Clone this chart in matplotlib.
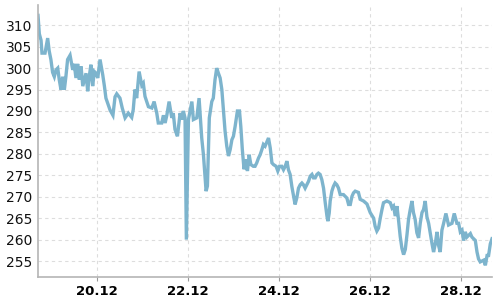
import pandas as pd
import numpy as np
import matplotlib
matplotlib.use("Agg")
import matplotlib.pyplot as plt
import matplotlib.dates as mdates

#hours after 18.12 00:00 and the reading at that time
hours = [16.9, 17.6, 18.5, 19.0, 20.6, 22.0, 22.8, 23.7, 24.6, 25.5, 26.4, 27.3, 28.1, 29.0,
         29.9, 30.8, 31.6, 32.5, 33.8, 35.2, 36.0, 36.9, 37.8, 38.7, 39.6, 40.5, 42.2, 43.1,
         43.9, 44.8, 45.7, 46.6, 47.5, 48.4, 49.6, 51.0, 51.9, 52.7, 54.9, 56.4, 57.5, 58.4,
         60.1, 61.3, 62.8, 64.5, 66.3, 67.1, 68.0, 68.9, 70.2, 71.6, 72.4, 73.3, 75.1, 76.9,
         78.1, 79.5, 80.3, 82.1, 83.0, 83.9, 84.8, 86.0, 87.4, 88.2, 89.1, 90.4, 91.8, 92.7,
         93.5, 94.4, 95.1, 96.2, 98.0, 98.8, 100.6, 101.8, 103.2, 104.1, 105.5, 106.2, 107.2,
         108.5, 109.3, 110.2, 111.1, 112.0, 112.9, 113.8, 114.6, 115.5, 116.4, 117.3, 118.2,
         119.1, 119.9, 120.8, 122.0, 123.1, 123.8, 124.6, 125.5, 126.4, 127.3, 128.2, 129.1,
         130.4, 131.3, 132.2, 133.1, 134.0, 134.9, 135.7, 136.6, 138.4, 139.3, 140.2, 141.0,
         142.4, 143.3, 144.2, 145.4, 146.3, 147.2, 148.1, 148.9, 149.8, 150.7, 151.6, 152.4,
         153.3, 154.2, 155.1, 156.0, 156.8, 157.7, 158.6, 159.5, 160.4, 161.3, 162.1, 163.0,
         163.9, 164.7, 165.6, 166.5, 167.4, 168.3, 169.2, 169.7, 170.4, 170.9, 171.8, 172.6,
         173.5, 174.4, 175.3, 176.2, 177.9, 179.7, 180.6, 181.5, 182.4, 183.2, 184.1, 185.8,
         186.7, 188.5, 190.3, 192.0, 193.8, 194.6, 195.5, 196.4, 197.3, 198.2, 199.0, 200.8,
         202.6, 203.5, 204.3, 205.2, 206.1, 206.9, 207.8, 208.7, 209.6, 210.5, 211.4, 212.2,
         213.1, 214.0, 214.8, 215.7, 216.6, 217.5, 218.4, 219.3, 220.1, 221.0, 221.9, 222.8,
         223.7, 224.6, 225.4, 226.3, 227.2, 228.0, 228.9, 229.8, 230.7, 231.9, 233.3, 235.1,
         236.3, 237.7, 238.6, 239.5, 240.4, 241.2, 242.1, 243.0, 244.8, 245.6, 246.5, 247.4,
         248.3, 249.1, 250.0, 251.8, 252.7, 253.6, 254.4, 255.3, 256.2]
values = [312.3, 308.0, 306.5, 303.5, 303.5, 307.0, 304.0, 302.0, 299.0, 298.0, 299.6, 300.0, 297.3, 295.0,
          298.0, 295.0, 298.0, 302.0, 303.0, 299.6, 301.0, 297.7, 301.0, 297.3, 300.4, 295.8, 298.8, 294.6,
          298.0, 300.8, 295.8, 299.2, 298.8, 297.7, 302.0, 298.5, 295.8, 293.0, 290.2, 289.0, 293.3, 294.0,
          293.0, 290.7, 288.4, 289.5, 288.5, 290.3, 295.0, 293.0, 299.2, 296.0, 296.5, 293.4, 291.0, 290.7,
          292.2, 289.5, 287.2, 287.2, 289.0, 287.2, 289.0, 292.2, 288.4, 289.5, 285.7, 284.1, 289.5, 288.0,
          290.0, 288.4, 260.0, 288.0, 292.2, 288.0, 288.4, 293.0, 283.7, 279.8, 271.3, 272.5, 288.4,
          292.2, 293.0, 297.3, 300.0, 298.8, 297.7, 295.0, 290.3, 285.3, 281.8, 279.5, 281.0,
          283.3, 284.1, 286.4, 290.0, 290.0, 286.4, 281.0, 276.4, 278.7, 276.0, 279.8, 277.5,
          277.1, 277.1, 277.9, 279.0, 279.8, 281.0, 282.2, 281.8, 283.7, 281.4, 277.9, 277.5,
          277.1, 276.0, 277.1, 277.1, 276.3, 277.1, 278.3, 276.3, 275.2, 272.4, 270.1, 268.2,
          269.7, 272.0, 272.8, 273.2, 272.8, 272.0, 272.8, 273.6, 274.8, 275.2, 274.4, 274.4,
          275.2, 275.5, 275.2, 274.0, 272.0, 268.6, 265.5, 264.3, 266.2, 269.0, 271.3, 272.4,
          273.2, 272.8, 272.0, 270.5, 270.5, 269.7, 268.2, 268.2, 270.1, 270.9, 271.3, 271.0,
          269.4, 269.0, 268.3, 266.3, 265.0, 263.1, 262.0, 262.7, 265.0, 267.0, 268.6, 269.0,
          268.6, 267.4, 267.8, 265.5, 267.8, 264.7, 260.8, 258.0, 256.5, 257.7, 261.2, 264.7,
          267.0, 269.0, 266.3, 264.7, 261.6, 260.4, 263.9, 266.3, 267.0, 269.0, 265.3, 263.8,
          261.4, 259.0, 257.1, 259.0, 261.8, 258.7, 257.1, 262.2, 263.8, 266.1, 263.4, 263.8,
          266.1, 263.8, 263.8, 261.8, 262.2, 259.8, 261.8, 260.6, 261.4, 260.6, 260.2, 259.8,
          257.1, 255.5, 254.8, 255.2, 254.0, 256.3, 256.3, 259.0, 260.2]
yticks = [255, 260, 265, 270, 275, 280, 285, 290, 295, 300, 305, 310]

t = pd.Timestamp("2023-12-18") + pd.to_timedelta(hours, unit="h")

fig = plt.figure(figsize=(5, 3), dpi=100)
ax = fig.add_axes([0.076, 0.077, 0.908, 0.906])

ax.plot(t, values, color="#7db4cd", lw=2.4, solid_joinstyle="miter")

ax.set_xlim(t[0], t[-1])
ax.set_ylim(251.3, 314.7)
ax.set_yticks(yticks)
ax.xaxis.set_major_locator(mdates.DayLocator(bymonthday=[20, 22, 24, 26, 28]))
ax.xaxis.set_major_formatter(mdates.DateFormatter("%d.%m"))

ax.grid(True, color="#dddddd", linestyle=(0, (3, 3)), linewidth=0.8)
ax.set_axisbelow(True)
for s in ["top", "right"]:
    ax.spines[s].set_visible(False)
for s in ["left", "bottom"]:
    ax.spines[s].set_color("#b5b5b5")
    ax.spines[s].set_linewidth(1.2)

ax.tick_params(axis="y", length=0, pad=4, labelsize=10, labelcolor="#111111")
ax.tick_params(axis="x", length=3, width=0.8, color="#999999", pad=3, labelsize=9.5)
for lab in ax.get_xticklabels():
    lab.set_fontweight("bold")

plt.savefig("out.png", dpi=100)
